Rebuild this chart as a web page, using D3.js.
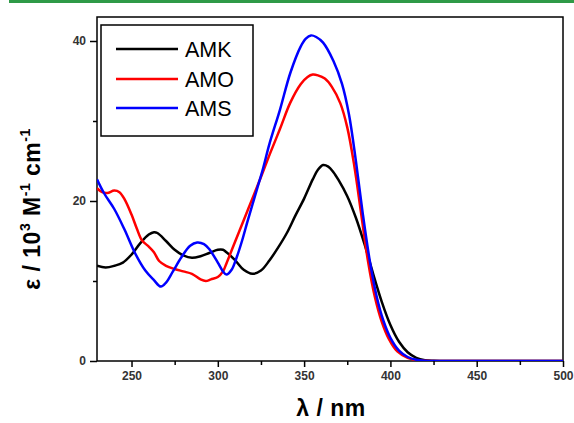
<!DOCTYPE html>
<html><head><meta charset="utf-8">
<script src="https://cdn.jsdelivr.net/npm/d3@7"></script>
<style>body{margin:0;background:#fff}svg{display:block}</style>
</head><body>
<svg id="c" width="574" height="423"></svg>
<script>
const seriesNames = ["AMK", "AMO", "AMS"];
const seriesColors = ["#000000", "#ff0000", "#0000ff"];
const xTicks = [250, 300, 350, 400, 450, 500];
const yTicks = [0, 20, 40];
const amkX = [230,235,240,245,250,255,260,263,265,270,275,280,285,290,295,300,303,305,310,315,320,325,330,335,340,345,350,355,358,361,364,367,370,375,380,385,390,395,400,405,410,415,420,425,430,500];
const amkY = [11.9,11.7,11.9,12.3,13.3,14.7,15.8,16.1,16.0,15.0,13.9,13.2,12.9,13.1,13.5,13.9,13.9,13.6,12.6,11.4,10.9,11.3,12.6,14.2,16.0,18.2,20.3,22.7,23.9,24.5,24.3,23.6,22.6,20.6,17.9,14.6,10.9,7.4,4.5,2.4,1.1,0.4,0.1,0.02,0,0];
const amoX = [230,233,236,240,243,246,250,253,256,260,263,266,270,275,280,285,290,293,296,300,303,305,310,315,320,325,330,336,342,348,352,355,358,362,366,371,375,379,383,387,391,395,399,404,410,415,420,425,500];
const amoY = [21.6,21.1,21.0,21.3,21.1,20.2,18.3,16.6,15.1,14.3,13.6,12.5,11.9,11.5,11.2,10.9,10.2,10.0,10.2,10.5,11.2,12.2,14.9,17.6,20.3,23.0,25.8,29.0,32.3,34.6,35.5,35.8,35.7,35.3,34.3,32.2,29.2,24.5,18.5,12.5,8.0,4.9,2.8,1.2,0.4,0.1,0.02,0,0];
const amsX = [230,234,240,246,252,258,263,267,270,274,279,284,288,292,295,300,303,305,308,311,314,317,320,323,326,330,336,342,348,351,354,357,361,367,372,376,380,384,388,392,396,400,405,410,415,420,425,500];
const amsY = [22.7,21.0,19.0,16.4,13.5,11.3,10.1,9.3,9.8,11.2,13.0,14.4,14.8,14.6,14.0,12.3,11.2,10.8,11.4,13.0,15.0,17.3,19.5,21.7,23.9,27.2,31.4,36.0,39.3,40.3,40.7,40.5,39.8,37.5,34.6,30.8,25.0,18.4,12.6,8.1,5.0,2.9,1.3,0.5,0.15,0.03,0,0];

const svg = d3.select("#c");
const L = 97, R = 563, T = 17, B = 361;
const x = d3.scaleLinear().domain([230, 500]).range([L, R]);
const y = d3.scaleLinear().domain([0, 43]).range([B, T]);

// green top bar
svg.append("rect").attr("x", 9).attr("y", 0).attr("width", 565).attr("height", 3).attr("fill", "#2f9a47");

const font = "Liberation Sans, Arial, sans-serif";

// axes
const xAxis = svg.append("g").attr("transform", `translate(0,${B})`)
  .call(d3.axisBottom(x).tickValues(xTicks).tickSize(6).tickPadding(4).tickFormat(d3.format("d")));
const xMinor = svg.append("g").attr("transform", `translate(0,${B})`)
  .call(d3.axisBottom(x).tickValues([275,325,375,425,475]).tickSize(4).tickFormat(""));
const yAxis = svg.append("g").attr("transform", `translate(${L},0)`)
  .call(d3.axisLeft(y).tickValues(yTicks).tickSize(7).tickPadding(4).tickFormat(d3.format("d")));
const yMinor = svg.append("g").attr("transform", `translate(${L},0)`)
  .call(d3.axisLeft(y).tickValues([10,30]).tickSize(4).tickFormat(""));
[xAxis, xMinor, yAxis, yMinor].forEach(g => {
  g.select(".domain").remove();
  g.selectAll("line").attr("stroke", "#000").attr("stroke-width", 1.5);
  g.selectAll("text").attr("font-family", font).attr("font-size", 12).attr("font-weight", "bold").attr("fill", "#333");
});

// frame
svg.append("rect").attr("x", L).attr("y", T).attr("width", R - L).attr("height", B - T)
  .attr("fill", "none").attr("stroke", "#000").attr("stroke-width", 1.5);

// curves
const line = d3.line().x(d => x(d[0])).y(d => y(d[1])).curve(d3.curveCatmullRom.alpha(0.5));
const data = [d3.zip(amkX, amkY), d3.zip(amoX, amoY), d3.zip(amsX, amsY)];
svg.append("clipPath").attr("id", "cl").append("rect").attr("x", L).attr("y", T).attr("width", R - L).attr("height", B - T);
[0, 1, 2].forEach(i => {
  svg.append("path").datum(data[i]).attr("d", line).attr("fill", "none")
    .attr("stroke", seriesColors[i]).attr("stroke-width", 2.5).attr("clip-path", "url(#cl)");
});

// legend
svg.append("rect").attr("x", 101).attr("y", 25).attr("width", 152).attr("height", 111)
  .attr("fill", "#fff").attr("stroke", "#000").attr("stroke-width", 1.5);
const legY = [49, 79, 108];
seriesNames.forEach((n, i) => {
  svg.append("line").attr("x1", 116).attr("x2", 178).attr("y1", legY[i]).attr("y2", legY[i])
    .attr("stroke", seriesColors[i]).attr("stroke-width", 2.5);
  svg.append("text").attr("x", 185).attr("y", legY[i] + 8).text(n)
    .attr("font-family", font).attr("font-size", 21.5).attr("fill", "#000");
});

// x label
svg.append("text").attr("x", 331).attr("y", 416).attr("text-anchor", "middle")
  .attr("font-family", font).attr("font-size", 23).attr("font-weight", "bold")
  .attr("letter-spacing", 0.5).text("λ / nm");

// y label
const yl = svg.append("text").attr("transform", "translate(40,209) rotate(-90)").attr("text-anchor", "middle")
  .attr("font-family", font).attr("font-size", 23).attr("font-weight", "bold").attr("letter-spacing", 0.5);
yl.append("tspan").text("ε / 10");
yl.append("tspan").text("3").attr("font-size", 14).attr("dy", -10);
yl.append("tspan").text(" M").attr("dy", 10);
yl.append("tspan").text("-1").attr("font-size", 14).attr("dy", -10);
yl.append("tspan").text(" cm").attr("dy", 10);
yl.append("tspan").text("-1").attr("font-size", 14).attr("dy", -10);
</script>
</body></html>
